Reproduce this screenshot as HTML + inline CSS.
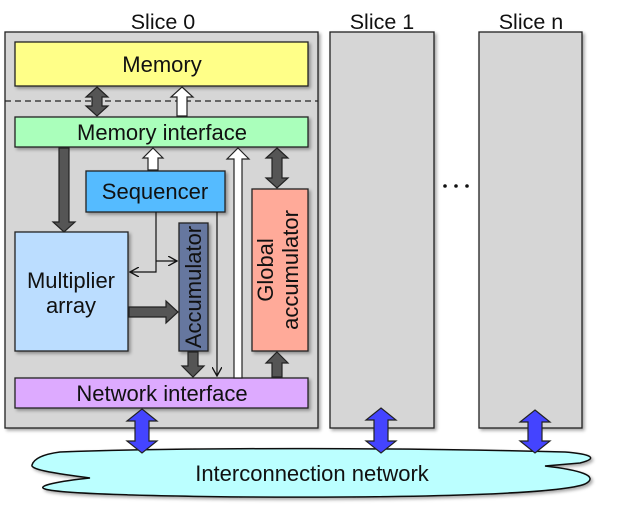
<!DOCTYPE html>
<html><head><meta charset="utf-8"><style>body{margin:0;background:#fff}svg{display:block}text{font-family:"Liberation Sans",sans-serif;fill:#111}</style></head><body>
<svg width="622" height="505" viewBox="0 0 622 505" xmlns="http://www.w3.org/2000/svg">
<defs><filter id="sh" x="-10%" y="-10%" width="130%" height="130%"><feDropShadow dx="2" dy="2" stdDeviation="1.5" flood-color="#000" flood-opacity="0.35"/></filter>
<marker id="ah" markerWidth="10" markerHeight="10" refX="9" refY="5" orient="auto" markerUnits="userSpaceOnUse"><path d="M0,0 L9,5 L0,10" fill="none" stroke="#111" stroke-width="1.3"/></marker></defs>
<text x="163" y="29" font-size="21.5" text-anchor="middle">Slice 0</text>
<text x="382" y="29" font-size="21.5" text-anchor="middle">Slice 1</text>
<text x="531" y="29" font-size="21.5" text-anchor="middle">Slice n</text>
<g stroke="#222" stroke-width="1.3" filter="url(#sh)">
<rect x="5" y="32" width="313" height="396" fill="#d6d6d6"/>
<rect x="330" y="32" width="104" height="396" fill="#d6d6d6"/>
<rect x="479" y="32" width="103" height="396" fill="#d6d6d6"/>
</g>
<g fill="#111"><circle cx="445" cy="186" r="1.8"/><circle cx="456" cy="186" r="1.8"/><circle cx="467" cy="186" r="1.8"/></g>
<line x1="5" y1="101" x2="318" y2="101" stroke="#222" stroke-width="1.3" stroke-dasharray="6,4"/>
<g stroke="#222" stroke-width="1.3" filter="url(#sh)">
<rect x="15" y="42" width="293" height="44" fill="#ffff88"/>
<rect x="15" y="117" width="293" height="30" fill="#aaffbb"/>
<rect x="86" y="171" width="139" height="41" fill="#55bbff"/>
<rect x="15" y="232" width="113" height="119" fill="#bbddff"/>
<rect x="179" y="223" width="29" height="128" fill="#66779f"/>
<rect x="252" y="189" width="56" height="162" fill="#ffaa99"/>
<rect x="15" y="378" width="293" height="30" fill="#ddaaff"/>
</g>
<text x="162" y="72" font-size="22" text-anchor="middle">Memory</text>
<text x="162" y="140" font-size="22" text-anchor="middle">Memory interface</text>
<text x="155" y="199" font-size="22" text-anchor="middle">Sequencer</text>
<text x="71" y="288" font-size="22" text-anchor="middle">Multiplier</text>
<text x="71" y="313" font-size="22" text-anchor="middle">array</text>
<text x="162" y="401" font-size="22" text-anchor="middle">Network interface</text>
<text transform="translate(201,287) rotate(-90)" font-size="22" text-anchor="middle">Accumulator</text>
<text transform="translate(273,270) rotate(-90)" font-size="22" text-anchor="middle">Global</text>
<text transform="translate(298,270) rotate(-90)" font-size="22" text-anchor="middle">accumulator</text>
<g stroke="#222" stroke-width="1.2">
<polygon fill="#555" points="97,87 108,97 102,97 102,106 108,106 97,116 86,106 92,106 92,97 86,97"/>
<polygon fill="#fff" points="182,87 193,97 187,97 187,116 177,116 177,97 171,97"/>
<polygon fill="#555" points="59,148 69,148 69,222 75,222 64,232 53,222 59,222"/>
<polygon fill="#fff" points="153,148 163,158 158,158 158,170 148,170 148,158 143,158"/>
<polygon fill="#fff" points="238,148 249,159 242,159 242,378 234,378 234,159 227,159"/>
<polygon fill="#555" points="277,148 288,158 282,158 282,178 288,178 277,188 266,178 272,178 272,158 266,158"/>
<polygon fill="#555" points="129,307 166,307 166,301 178,312 166,323 166,317 129,317"/>
<polygon fill="#555" points="188,352 198,352 198,366 204,366 193,377 182,366 188,366"/>
<polygon fill="#555" points="277,352 288,363 282,363 282,377 272,377 272,363 266,363"/>
</g>
<g fill="none" stroke="#111" stroke-width="1.2">
<polyline points="156,212 156,272 130,272" marker-end="url(#ah)"/>
<polyline points="156,261 177,261" marker-end="url(#ah)"/>
<polyline points="217,212 217,376" marker-end="url(#ah)"/>
</g>
<path d="M60,452 C200,447 420,448 565,452 C590,454 600,458 580,463 L545,466 C580,470 600,476 585,484 C560,494 420,498 250,497 C150,496 60,494 45,489 C35,486 60,481 90,478 C60,474 30,470 32,465 C34,458 45,454 60,452 Z" fill="#bbffff" stroke="#111" stroke-width="1.5" filter="url(#sh)"/>
<text x="312" y="481" font-size="22" text-anchor="middle">Interconnection network</text>
<g stroke="#222" stroke-width="1.2" fill="#4444ff">
<polygon points="142,409 157,421 149,421 149,441 157,441 142,453 127,441 135,441 135,421 127,421"/>
<polygon points="381,408 396,420 388,420 388,441 396,441 381,453 366,441 374,441 374,420 366,420"/>
<polygon points="535,410 550,422 542,422 542,441 550,441 535,453 520,441 528,441 528,422 520,422"/>
</g>
</svg>
</body></html>
